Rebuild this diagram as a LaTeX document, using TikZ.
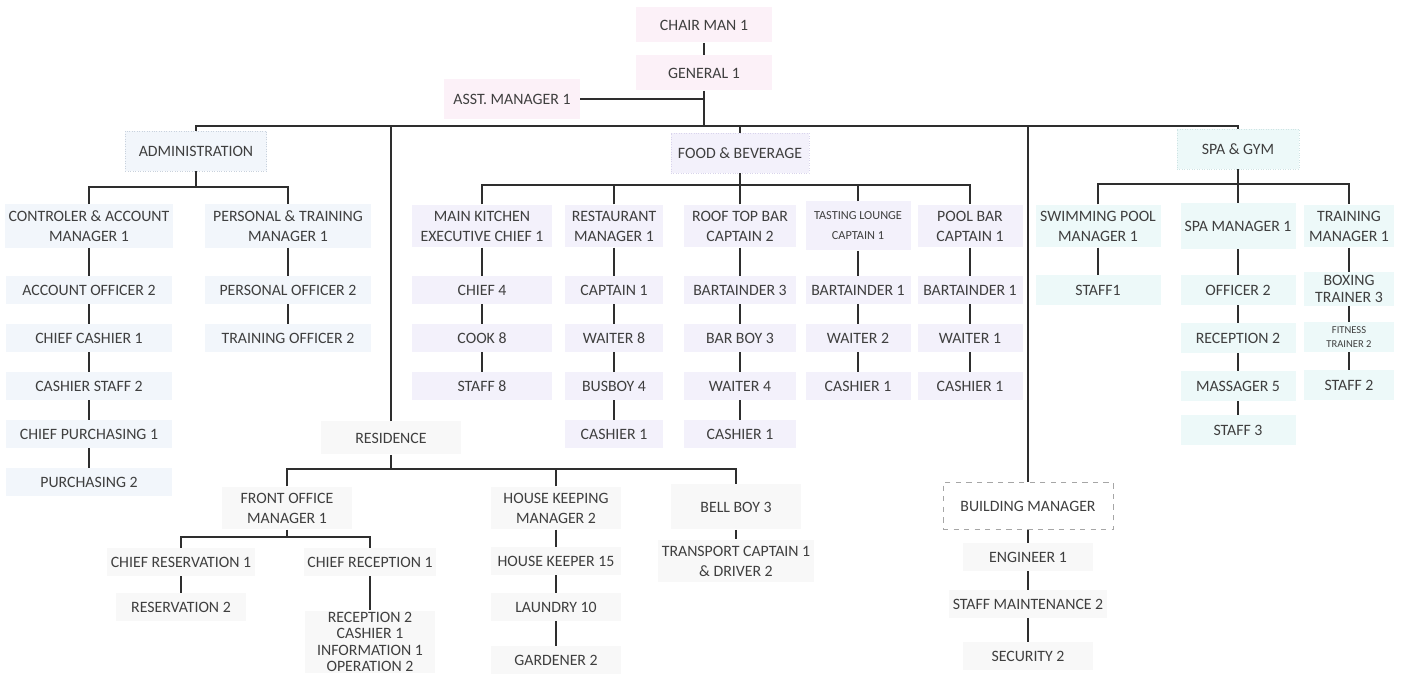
\documentclass[tikz,border=0pt]{standalone}
\usepackage{fontspec}
\setmainfont{Carlito}
\usetikzlibrary{positioning}

\definecolor{inktext}{HTML}{3F3F3F}
\definecolor{inkline}{HTML}{2E2E2E}
\definecolor{pinkfill}{HTML}{FCF1F8}
\definecolor{lilacfill}{HTML}{F3F1FB}
\definecolor{lilacdraw}{HTML}{D9D4EC}
\definecolor{cyanfill}{HTML}{EDF9F9}
\definecolor{cyandraw}{HTML}{CFE4E4}
\definecolor{bluefill}{HTML}{F2F6FB}
\definecolor{bluedraw}{HTML}{C9D2DD}
\definecolor{greyfill}{HTML}{F8F8F8}

\tikzset{
  post/.style={align=center, text=inktext, font=\fontsize{9}{11.4}\selectfont,
               inner xsep=2pt, inner ysep=3.5pt, minimum height=0.55cm},
  topbox/.style={post, fill=pinkfill, minimum width=2.72cm, minimum height=0.7cm},
  headbox/.style={post, minimum height=0.8cm, densely dotted, line width=0.4pt},
  adminbox/.style={post, fill=bluefill, minimum width=3.3cm},
  fnbbox/.style={post, fill=lilacfill},
  spabox/.style={post, fill=cyanfill, minimum height=0.6cm},
  resbox/.style={post, fill=greyfill, minimum width=2.6cm},
  link/.style={draw=inkline, line width=1pt},
  smalltext/.style={font=\fontsize{7}{11.4}\selectfont},
  tinytext/.style={font=\fontsize{6}{7.5}\selectfont, inner ysep=1pt},
}

\begin{document}
\begin{tikzpicture}[x=0.2mm, y=-0.2mm, node distance=0.96cm, on grid]
  \useasboundingbox (0,0) rectangle (1401,674);

  % top of the chart
  \node[topbox] (chair) at (704,25) {CHAIR MAN 1};
  \node[topbox] (gen) [below=of chair] {GENERAL 1};
  \node[topbox, minimum height=0.8cm] (asst) at (512,99) {ASST. MANAGER 1};
  \coordinate (bus) at (704,126);

  % departments
  \node[headbox, fill=bluefill, draw=bluedraw, minimum width=2.82cm] (admin) at (196,151) {ADMINISTRATION};
  \node[headbox, fill=lilacfill, draw=lilacdraw, minimum width=2.76cm] (fnb) at (740,153) {FOOD \& BEVERAGE};
  \node[headbox, fill=cyanfill, draw=cyandraw, minimum width=2.44cm] (spa) at (1238,149) {SPA \& GYM};
  \node[post, fill=greyfill, minimum width=2.8cm, minimum height=0.66cm] (res) at (391,438) {RESIDENCE};
  \node[post, draw=gray!70, dashed, line width=0.4pt, minimum width=3.4cm, minimum height=0.94cm] (bldg) at (1028,506) {BUILDING MANAGER};

  \path[link] (chair) edge (gen);
  \draw[link] (gen) -- (bus);
  \draw[link] (asst) -- (asst -| gen);
  \draw[link] (admin) |- (bus) -| (spa);
  \draw[link] (res) -- (res |- bus);
  \draw[link] (fnb) -- (fnb |- bus);
  \draw[link] (bldg) -- (bldg |- bus);

  % administration
  \node[adminbox] (cam) at (89,226) {CONTROLER \& ACCOUNT\\MANAGER 1};
  \node[adminbox] (ao) [below=1.28cm of cam] {ACCOUNT OFFICER 2};
  \node[adminbox] (cc) [below=of ao] {CHIEF CASHIER 1};
  \node[adminbox] (cs) [below=of cc] {CASHIER STAFF 2};
  \node[adminbox] (cp) [below=of cs] {CHIEF PURCHASING 1};
  \node[adminbox] (pur) [below=of cp] {PURCHASING 2};
  \node[adminbox] (ptm) at (288,226) {PERSONAL \& TRAINING\\MANAGER 1};
  \node[adminbox] (po) [below=1.28cm of ptm] {PERSONAL OFFICER 2};
  \node[adminbox] (tro) [below=of po] {TRAINING OFFICER 2};
  \coordinate (adminbus) at (196,187);
  \draw[link] (admin) -- (adminbus);
  \draw[link] (cam) |- (adminbus) -| (ptm);
  \path[link] (cam) edge (ao) (ao) edge (cc) (cc) edge (cs) (cs) edge (cp) (cp) edge (pur)
              (ptm) edge (po) (po) edge (tro);

  % food and beverage
  \node[fnbbox, minimum width=2.8cm] (mk) at (482,226) {MAIN KITCHEN\\EXECUTIVE CHIEF 1};
  \node[fnbbox, minimum width=2.8cm] (chf) [below=1.28cm of mk] {CHIEF 4};
  \node[fnbbox, minimum width=2.8cm] (cook) [below=of chf] {COOK 8};
  \node[fnbbox, minimum width=2.8cm] (stf8) [below=of cook] {STAFF 8};
  \node[fnbbox, minimum width=1.95cm] (rm) at (614,226) {RESTAURANT\\MANAGER 1};
  \node[fnbbox, minimum width=1.95cm] (cap) [below=1.28cm of rm] {CAPTAIN 1};
  \node[fnbbox, minimum width=1.95cm] (wt8) [below=of cap] {WAITER 8};
  \node[fnbbox, minimum width=1.95cm] (bus4) [below=of wt8] {BUSBOY 4};
  \node[fnbbox, minimum width=1.95cm] (cs1) [below=of bus4] {CASHIER 1};
  \node[fnbbox, minimum width=2.24cm] (rtb) at (740,226) {ROOF TOP BAR\\CAPTAIN 2};
  \node[fnbbox, minimum width=2.24cm] (bt3) [below=1.28cm of rtb] {BARTAINDER 3};
  \node[fnbbox, minimum width=2.24cm] (bb3) [below=of bt3] {BAR BOY 3};
  \node[fnbbox, minimum width=2.24cm] (wt4) [below=of bb3] {WAITER 4};
  \node[fnbbox, minimum width=2.24cm] (cs2) [below=of wt4] {CASHIER 1};
  \node[fnbbox, smalltext, minimum width=2.1cm, minimum height=0.98cm] (tl) at (858,226) {TASTING LOUNGE\\CAPTAIN 1};
  \node[fnbbox, minimum width=2.1cm] (bt1) [below=1.28cm of tl] {BARTAINDER 1};
  \node[fnbbox, minimum width=2.1cm] (wt2) [below=of bt1] {WAITER 2};
  \node[fnbbox, minimum width=2.1cm] (cs3) [below=of wt2] {CASHIER 1};
  \node[fnbbox, minimum width=2.1cm] (pb) at (970,226) {POOL BAR\\CAPTAIN 1};
  \node[fnbbox, minimum width=2.1cm] (bt1b) [below=1.28cm of pb] {BARTAINDER 1};
  \node[fnbbox, minimum width=2.1cm] (wt1) [below=of bt1b] {WAITER 1};
  \node[fnbbox, minimum width=2.1cm] (cs4) [below=of wt1] {CASHIER 1};
  \coordinate (fnbbus) at (740,185);
  \draw[link] (fnb) -- (fnbbus);
  \draw[link] (mk) |- (fnbbus) -| (pb);
  \draw[link] (rm) -- (rm |- fnbbus);
  \draw[link] (rtb) -- (fnbbus);
  \draw[link] (tl) -- (tl |- fnbbus);
  \path[link] (mk) edge (chf) (chf) edge (cook) (cook) edge (stf8)
              (rm) edge (cap) (cap) edge (wt8) (wt8) edge (bus4) (bus4) edge (cs1)
              (rtb) edge (bt3) (bt3) edge (bb3) (bb3) edge (wt4) (wt4) edge (cs2)
              (tl) edge (bt1) (bt1) edge (wt2) (wt2) edge (cs3)
              (pb) edge (bt1b) (bt1b) edge (wt1) (wt1) edge (cs4);

  % spa and gym
  \node[spabox, minimum width=2.5cm] (swim) at (1098,226) {SWIMMING POOL\\MANAGER 1};
  \node[spabox, minimum width=2.5cm] (stf1) [below=1.28cm of swim] {STAFF1};
  \node[spabox, minimum width=2.3cm, minimum height=0.92cm] (spam) at (1238,226) {SPA MANAGER 1};
  \node[spabox, minimum width=2.3cm] (off) [below=1.28cm of spam] {OFFICER 2};
  \node[spabox, minimum width=2.3cm] (rcp2) [below=of off] {RECEPTION 2};
  \node[spabox, minimum width=2.3cm] (mas) [below=of rcp2] {MASSAGER 5};
  \node[spabox, minimum width=2.3cm] (stf3) [below=0.88cm of mas] {STAFF 3};
  \node[spabox, minimum width=1.8cm] (trn) at (1349,226) {TRAINING\\MANAGER 1};
  \node[spabox, minimum width=1.8cm, font=\fontsize{9}{10}\selectfont, inner ysep=1.5pt] (boxt) [below=1.26cm of trn] {BOXING\\TRAINER 3};
  \node[spabox, tinytext, minimum width=1.8cm] (fit) [below=of boxt] {FITNESS\\TRAINER 2};
  \node[spabox, minimum width=1.8cm] (stf2) [below=0.96cm of fit] {STAFF 2};
  \coordinate (spabus) at (1238,184);
  \draw[link] (spa) -- (spabus);
  \draw[link] (swim) |- (spabus) -| (trn);
  \draw[link] (spam) -- (spabus);
  \path[link] (swim) edge (stf1)
              (spam) edge (off) (off) edge (rcp2) (rcp2) edge (mas) (mas) edge (stf3)
              (trn) edge (boxt) (boxt) edge (fit) (fit) edge (stf2);

  % residence
  \node[resbox] (fo) at (287,508) {FRONT OFFICE\\MANAGER 1};
  \node[resbox] (hk) at (556,508) {HOUSE KEEPING\\MANAGER 2};
  \node[resbox, minimum height=0.9cm] (bb) at (736,507) {BELL BOY 3};
  \coordinate (resbus) at (391,469);
  \draw[link] (res) -- (resbus);
  \draw[link] (fo) |- (resbus) -| (bb);
  \draw[link] (hk) -- (hk |- resbus);

  \node[resbox] (cres) at (181,562) {CHIEF RESERVATION 1};
  \node[resbox] (crec) at (370,562) {CHIEF RECEPTION 1};
  \node[resbox] (resv) [below=0.9cm of cres] {RESERVATION 2};
  \node[resbox, font=\fontsize{9}{9.2}\selectfont, inner ysep=1pt] (recblk) [below=1.6cm of crec] {RECEPTION 2\\CASHIER 1\\INFORMATION 1\\OPERATION 2};
  \coordinate (fobus) at (287,537);
  \draw[link] (fo) -- (fobus);
  \draw[link] (cres) |- (fobus) -| (crec);

  \node[resbox] (hkp) [below=1.06cm of hk] {HOUSE KEEPER 15};
  \node[resbox] (lau) [below=0.92cm of hkp] {LAUNDRY 10};
  \node[resbox] (gar) [below=1.06cm of lau] {GARDENER 2};
  \node[resbox] (tcd) [below=1.08cm of bb] {TRANSPORT CAPTAIN 1\\\& DRIVER 2};
  \path[link] (cres) edge (resv) (crec) edge (recblk)
              (hk) edge (hkp) (hkp) edge (lau) (lau) edge (gar)
              (bb) edge (tcd);

  % building
  \node[resbox] (eng) [below=1.02cm of bldg] {ENGINEER 1};
  \node[resbox] (stm) [below=0.94cm of eng] {STAFF MAINTENANCE 2};
  \node[resbox] (sec) [below=1.04cm of stm] {SECURITY 2};
  \path[link] (bldg) edge (eng) (eng) edge (stm) (stm) edge (sec);
\end{tikzpicture}
\end{document}
